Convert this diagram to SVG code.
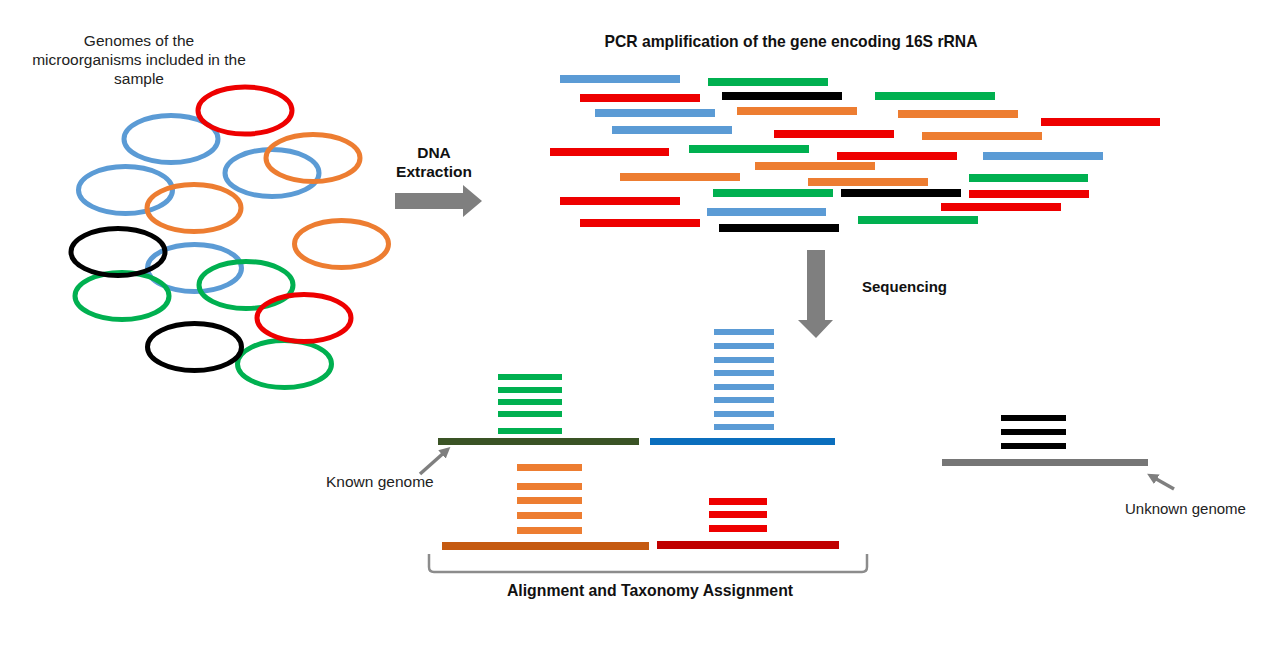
<svg xmlns="http://www.w3.org/2000/svg" width="1280" height="648" viewBox="0 0 1280 648">
<defs>
<style>
.t{font-family:"Liberation Sans",Arial,sans-serif;font-size:15.5px;fill:#222}
.b{font-family:"Liberation Sans",Arial,sans-serif;font-size:15px;font-weight:bold;fill:#111}
.e{fill:none;stroke-width:5}
.cb{stroke:#5B9BD5}.cg{stroke:#00B050}.cr{stroke:#EE0000}.co{stroke:#ED7D31}.ck{stroke:#000}
.fb{fill:#5B9BD5}.fg{fill:#00B050}.fr{fill:#EE0000}.fo{fill:#ED7D31}.fk{fill:#000}
.arr{fill:#7F7F7F}
.ptr{stroke:#7F7F7F;stroke-width:3.5;fill:none;marker-end:url(#ah)}
</style>
<marker id="ah" viewBox="0 0 10 10" refX="6" refY="5" markerWidth="3.2" markerHeight="3.2" orient="auto">
<path d="M0,0 L10,5 L0,10 z" fill="#7F7F7F"/>
</marker>
</defs>
<rect width="1280" height="648" fill="#fff"/>

<g id="genomes">
<text class="t" text-anchor="middle"><tspan x="139" y="46">Genomes of the</tspan><tspan x="139" y="65">microorganisms included in the</tspan><tspan x="139" y="84">sample</tspan></text>
<ellipse class="e cb" cx="171" cy="139" rx="47" ry="23.5"/>
<ellipse class="e cb" cx="272" cy="173" rx="47" ry="23.5"/>
<ellipse class="e cb" cx="125.5" cy="190" rx="47" ry="23.5"/>
<ellipse class="e cb" cx="194.5" cy="268" rx="47" ry="23.5"/>
<ellipse class="e co" cx="313" cy="158" rx="47" ry="23.5"/>
<ellipse class="e co" cx="194" cy="208" rx="47" ry="23.5"/>
<ellipse class="e co" cx="341.5" cy="244" rx="47" ry="23.5"/>
<ellipse class="e cg" cx="122" cy="296" rx="47" ry="23.5"/>
<ellipse class="e cg" cx="246" cy="285" rx="47" ry="23.5"/>
<ellipse class="e cg" cx="284.5" cy="364" rx="47" ry="23.5"/>
<ellipse class="e ck" cx="118" cy="252" rx="47" ry="23.5"/>
<ellipse class="e ck" cx="194.5" cy="347" rx="47" ry="23.5"/>
<ellipse class="e cr" cx="245" cy="110.5" rx="47" ry="23.5"/>
<ellipse class="e cr" cx="304" cy="318" rx="47" ry="23.5"/>
</g>

<g id="connectors">
<g id="dna-extraction">
<text class="b" text-anchor="middle" style="font-size:15.5px"><tspan x="434" y="158">DNA</tspan><tspan x="434" y="177">Extraction</tspan></text>
<polygon class="arr" points="395,193 463,193 463,185 482,201 463,217 463,209 395,209"/>
</g>
<g id="sequencing">
<polygon class="arr" points="807,250 825,250 825,320 833,320 816,338 798,320 807,320"/>
<text class="b" x="862" y="292">Sequencing</text>
</g>
<path class="ptr" d="M420,474 L447,450"/>
<path class="ptr" d="M1174,489 L1151,476"/>
<path d="M429,554 L429,567 Q429,572 434,572 L862,572 Q867,572 867,567 L867,554" fill="none" stroke="#8C8C8C" stroke-width="2.5"/>
</g>

<g id="pcr">
<text class="b" x="791" y="47" text-anchor="middle" style="font-size:15.7px">PCR amplification of the gene encoding 16S rRNA</text>
<rect class="fb" x="560" y="75" width="120" height="8"/>
<rect class="fg" x="708" y="78" width="120" height="8"/>
<rect class="fr" x="580" y="94" width="120" height="8"/>
<rect class="fk" x="722" y="92" width="120" height="8"/>
<rect class="fg" x="875" y="92" width="120" height="8"/>
<rect class="fb" x="595" y="109" width="120" height="8"/>
<rect class="fo" x="737" y="107" width="120" height="8"/>
<rect class="fo" x="898" y="110" width="120" height="8"/>
<rect class="fr" x="1041" y="118" width="119" height="8"/>
<rect class="fb" x="612" y="126" width="120" height="8"/>
<rect class="fr" x="774" y="130" width="120" height="8"/>
<rect class="fo" x="922" y="132" width="120" height="8"/>
<rect class="fr" x="550" y="148" width="119" height="8"/>
<rect class="fg" x="689" y="145" width="120" height="8"/>
<rect class="fr" x="837" y="152" width="120" height="8"/>
<rect class="fb" x="983" y="152" width="120" height="8"/>
<rect class="fo" x="755" y="162" width="120" height="8"/>
<rect class="fo" x="620" y="173" width="120" height="8"/>
<rect class="fo" x="808" y="178" width="120" height="8"/>
<rect class="fg" x="969" y="174" width="119" height="8"/>
<rect class="fg" x="713" y="189" width="120" height="8"/>
<rect class="fk" x="841" y="189" width="120" height="8"/>
<rect class="fr" x="969" y="190" width="120" height="8"/>
<rect class="fr" x="560" y="197" width="120" height="8"/>
<rect class="fr" x="941" y="203" width="120" height="8"/>
<rect class="fb" x="707" y="208" width="119" height="8"/>
<rect class="fg" x="858" y="216" width="120" height="8"/>
<rect class="fr" x="580" y="219" width="120" height="8"/>
<rect class="fk" x="719" y="224" width="120" height="8"/>
</g>

<g id="green-genome">
<rect class="fg" x="498" y="374" width="64" height="6"/>
<rect class="fg" x="498" y="387" width="64" height="6"/>
<rect class="fg" x="498" y="399" width="64" height="6"/>
<rect class="fg" x="498" y="411" width="64" height="6"/>
<rect class="fg" x="498" y="428" width="64" height="6"/>
<rect x="438" y="438" width="201" height="7" fill="#3A5325"/>
</g>

<g id="blue-genome">
<rect class="fb" x="714" y="329" width="60" height="6"/>
<rect class="fb" x="714" y="343" width="60" height="6"/>
<rect class="fb" x="714" y="357" width="60" height="6"/>
<rect class="fb" x="714" y="370" width="60" height="6"/>
<rect class="fb" x="714" y="384" width="60" height="6"/>
<rect class="fb" x="714" y="397" width="60" height="6"/>
<rect class="fb" x="714" y="411" width="60" height="6"/>
<rect class="fb" x="714" y="424" width="60" height="6"/>
<rect x="650" y="438" width="185" height="7" fill="#0A6EBD"/>
</g>

<g id="orange-genome">
<rect class="fo" x="517" y="464" width="65" height="7"/>
<rect class="fo" x="517" y="483" width="65" height="7"/>
<rect class="fo" x="517" y="497" width="65" height="7"/>
<rect class="fo" x="517" y="512" width="65" height="7"/>
<rect class="fo" x="517" y="527" width="65" height="7"/>
<rect x="442" y="542" width="207" height="8" fill="#C55A11"/>
</g>

<g id="red-genome">
<rect class="fr" x="709" y="498" width="58" height="7"/>
<rect class="fr" x="709" y="511" width="58" height="7"/>
<rect class="fr" x="709" y="525" width="58" height="7"/>
<rect x="657" y="541" width="182" height="8" fill="#C00000"/>
</g>

<g id="unknown-genome">
<rect class="fk" x="1001" y="415" width="65" height="6"/>
<rect class="fk" x="1001" y="429" width="65" height="6"/>
<rect class="fk" x="1001" y="443" width="65" height="6"/>
<rect x="942" y="459" width="206" height="7" fill="#767676"/>
</g>

<g id="labels">
<text class="t" x="326" y="487">Known genome</text>
<text class="t" x="1125" y="514" style="font-size:15px">Unknown genome</text>
<text class="b" x="650" y="596" text-anchor="middle" style="font-size:15.8px">Alignment and Taxonomy Assignment</text>
</g>
</svg>
